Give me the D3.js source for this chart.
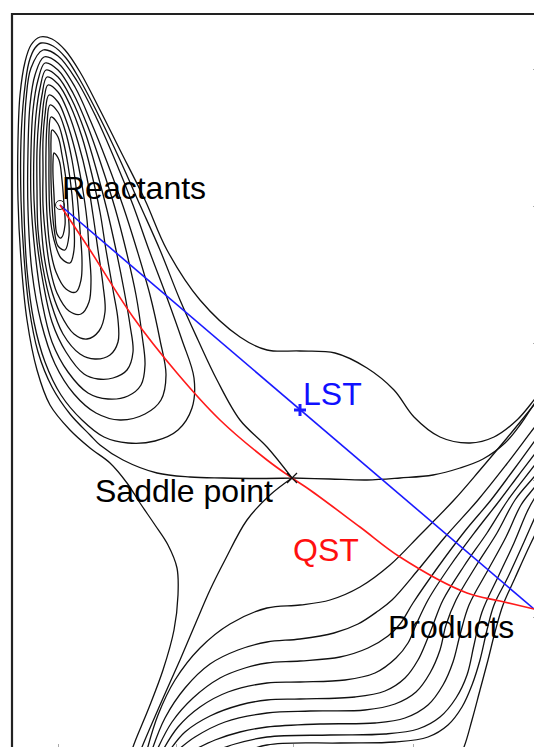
<!DOCTYPE html>
<html lang="en">
<head>
<meta charset="utf-8" />
<style>
  html, body { margin: 0; padding: 0; background: #fff; }
  svg { display: block; }
  .contour { fill: none; stroke: #111; stroke-width: 1.3; }
  .label { font-family: "Liberation Sans", Arial, sans-serif; font-size: 32px; }
</style>
</head>
<body>
<svg width="534" height="747"></svg>
<script src="https://d3js.org/d3.v7.min.js"></script>
<script>
// surface coordinates (grid units), origin at the top-left corner of the frame
var reactant = [48, 191],
    saddle = [280, 464],
    product = [522, 595],
    lstMid = [288, 396];

// closed contours around the reactant well, inner to outer
var reactantLoops = [
  [[42,139],[47,146],[50,166],[52,191],[53,211],[49,224],[45,220],[43,201],[42,181],[41,161],[41,148]],
  [[40,116],[46,123],[50,141],[54,166],[56,196],[57,221],[53,236],[46,232],[42,214],[40,191],[39,166],[39,141],[39,126]],
  [[39,103],[46,110],[51,126],[56,151],[60,181],[62,211],[62,236],[58,249],[49,244],[42,226],[38,201],[37,171],[37,141],[37,119]],
  [[38,91],[46,98],[53,116],[60,146],[65,181],[68,216],[70,246],[69,266],[64,278],[54,275],[44,258],[38,233],[35,201],[34,166],[34,136],[35,111]],
  [[37,81],[46,88],[54,106],[63,136],[70,171],[75,206],[77,236],[79,266],[77,288],[69,300],[57,297],[45,279],[38,254],[34,226],[31,191],[31,156],[31,126],[33,101]],
  [[36,71],[46,78],[56,98],[66,128],[75,164],[81,201],[86,236],[91,271],[93,298],[87,317],[75,325],[62,320],[48,299],[38,271],[32,241],[29,206],[28,171],[28,136],[30,106],[32,86]],
  [[35,63],[46,70],[58,91],[70,123],[80,161],[88,198],[94,236],[101,276],[106,306],[106,328],[98,341],[83,345],[68,340],[51,320],[39,289],[31,254],[26,216],[25,176],[25,136],[27,104],[30,81]],
  [[34,56],[46,63],[59,84],[73,118],[85,158],[95,196],[104,236],[112,276],[118,311],[121,338],[115,356],[101,364],[86,365],[72,360],[54,338],[40,308],[31,268],[25,228],[22,186],[22,136],[24,101],[28,74]],
  [[33,49],[46,56],[61,79],[76,113],[90,153],[103,194],[114,236],[124,281],[130,321],[133,351],[129,371],[116,382],[96,385],[76,379],[56,358],[40,328],[30,288],[23,238],[19,186],[19,136],[21,96],[26,66]],
  [[32,43],[46,49],[63,73],[79,108],[95,148],[111,192],[125,236],[138,281],[148,326],[154,361],[149,386],[133,400],[108,406],[84,399],[62,380],[43,350],[29,308],[20,258],[16,196],[16,136],[18,91],[23,61]],
  [[31,36],[46,42],[65,67],[84,103],[103,146],[121,191],[137,236],[154,281],[170,326],[182,364],[180,394],[166,416],[143,427],[116,429],[92,423],[70,406],[49,381],[33,348],[22,308],[15,256],[12,196],[12,136],[14,86],[19,54]]
];

// contour through the saddle point: reactant lobe, east branch, south-west branch
var saddleLobe = [[280,464],[248,464.5],[211,464],[178,463],[145,459],[111,446],[88,431],[78,421],[58,400],[40,373],[26,338],[17,293],[12,243],[9,186],[9,126],[12,81],[17,48],[23,34],[29,29],[41,32],[54,44],[68,66],[88,104],[108,146],[128,191],[148,236],[168,286],[186,326],[205,366],[228,406],[255,433],[280,464]];
var saddleEast = [[280,464],[318,465],[355,466],[388,464],[421,461],[448,454],[471,445],[493,429],[508,411],[522,390],[533,374]];
var saddleSouthWest = [[280,464],[258,481],[235,506],[213,546],[198,576],[185,606],[168,646],[148,691],[130,733],[123,751]];

// highest level drawn
var outerContour = [[118,746],[121,733],[136,696],[151,656],[162,616],[166,581],[165,554],[156,531],[143,511],[128,489],[115,469],[98,449],[78,434],[58,416],[38,391],[25,356],[15,306],[9,246],[6,186],[6,126],[8,81],[13,48],[19,31],[28,23],[40,25],[53,36],[68,58],[88,96],[108,136],[133,186],[155,236],[188,286],[228,323],[255,336],[288,337],[323,339],[355,354],[382,376],[402,403],[428,423],[458,429],[482,423],[505,406],[522,386],[533,371]];

// contours falling into the product well
var productContours = [
  [[135,736],[146,701],[163,666],[188,634],[218,610],[255,594],[288,591],[318,586],[348,573],[378,551],[408,521],[442,486],[468,456],[495,424],[522,391],[536,374]],
  [[140,736],[153,704],[173,674],[198,650],[226,636],[255,628],[288,625],[322,619],[346,610],[366,597],[380,586],[406,556],[433,523],[466,486],[494,451],[522,414],[536,396]],
  [[145,736],[160,708],[181,684],[208,664],[233,654],[255,649],[288,647],[328,643],[356,634],[376,622],[388,610],[401,589],[426,553],[453,517],[479,486],[500,458],[522,428],[536,409]],
  [[151,736],[166,713],[188,693],[216,678],[255,669],[288,668],[333,666],[363,659],[384,644],[396,629],[404,611],[416,586],[438,552],[463,518],[488,486],[506,462],[522,441],[536,422]],
  [[158,736],[173,718],[198,702],[228,691],[255,686],[288,685],[343,683],[373,677],[393,664],[406,646],[415,626],[421,611],[431,586],[452,552],[475,519],[496,486],[522,452],[536,433]],
  [[166,736],[183,723],[213,708],[255,699],[298,697],[353,696],[383,690],[404,678],[418,659],[428,636],[434,611],[444,586],[464,552],[485,519],[503,486],[522,463],[536,446]],
  [[178,738],[203,726],[228,718],[255,713],[308,710],[363,709],[393,704],[416,691],[431,671],[441,648],[448,621],[457,591],[476,556],[494,523],[509,491],[522,474],[536,456]],
  [[193,741],[223,730],[255,723],[318,721],[373,720],[406,715],[428,703],[444,684],[455,661],[462,631],[470,598],[487,561],[502,529],[515,498],[522,485],[536,466]],
  [[218,744],[255,731],[328,729],[383,728],[416,723],[436,711],[450,693],[460,671],[468,646],[475,616],[482,591],[496,563],[512,528],[524,501],[536,476]],
  [[443,751],[452,733],[460,706],[468,676],[476,646],[483,618],[491,591],[503,564],[518,531],[533,501]]
];

// quadratic synchronous transit path
var qstPath = [[48,191],[78,236],[121,303],[165,359],[208,406],[255,446],[280,464],[298,476],[348,513],[388,543],[455,579],[488,587],[522,595]];
var lstPath = [reactant, product];

var labels = [
  { text: "Reactants", at: [50, 185], color: "#000" },
  { text: "LST", at: [291, 391], color: "#1010ff" },
  { text: "Saddle point", at: [83, 488], color: "#000" },
  { text: "QST", at: [281, 547], color: "#ff1010" },
  { text: "Products", at: [376, 624], color: "#000" }
];

var bottomTicks = [46, 164, 281, 401],
    rightTicks = [55, 192, 329, 466, 603];

var svg = d3.select("svg");
svg.append("rect").attr("width", 534).attr("height", 747).attr("fill", "#fff");

var x = d3.scaleLinear().domain([0, 522]).range([12, 534]),
    y = d3.scaleLinear().domain([0, 733]).range([14, 747]);

svg.append("clipPath").attr("id", "plot")
  .append("rect")
  .attr("x", x(0)).attr("y", y(0))
  .attr("width", x(522) - x(0)).attr("height", y(733) - y(0));

var openLine = d3.line().x(function(d) { return x(d[0]); }).y(function(d) { return y(d[1]); })
  .curve(d3.curveCatmullRom);
var loopLine = d3.line().x(function(d) { return x(d[0]); }).y(function(d) { return y(d[1]); })
  .curve(d3.curveCatmullRomClosed);

var g = svg.append("g").attr("clip-path", "url(#plot)");

reactantLoops.forEach(function(loop) {
  g.append("path").attr("class", "contour").attr("d", loopLine(loop));
});

[saddleLobe, saddleEast, saddleSouthWest, outerContour].concat(productContours).forEach(function(line) {
  g.append("path").attr("class", "contour").attr("d", openLine(line));
});

g.append("path").attr("d", openLine(lstPath))
  .attr("fill", "none").attr("stroke", "#1a1aff").attr("stroke-width", 1.6);
g.append("path").attr("d", openLine(qstPath))
  .attr("fill", "none").attr("stroke", "#ff1a1a").attr("stroke-width", 1.6);

// markers
g.append("circle").attr("cx", x(reactant[0])).attr("cy", y(reactant[1])).attr("r", 4.5)
  .attr("fill", "none").attr("stroke", "#222").attr("stroke-width", 1);
g.append("path")
  .attr("d", "M-5,-5L5,5M-5,5L5,-5")
  .attr("transform", "translate(" + x(saddle[0]) + "," + y(saddle[1]) + ")")
  .attr("stroke", "#111").attr("stroke-width", 1.3);
g.append("path")
  .attr("d", "M-6,0H6M0,-6V6")
  .attr("transform", "translate(" + x(lstMid[0]) + "," + y(lstMid[1]) + ")")
  .attr("stroke", "#1a1aff").attr("stroke-width", 3);

// frame and faint tick marks
svg.append("path")
  .attr("d", "M" + x(0) + "," + (y(733) + 5) + "V" + y(0) + "H" + (x(522) + 5))
  .attr("fill", "none").attr("stroke", "#222").attr("stroke-width", 2.2);

var bottomAxis = svg.append("g").attr("transform", "translate(0," + (y(733) + 5) + ")")
  .call(d3.axisTop(x).tickValues(bottomTicks).tickSize(8).tickFormat(""));
var rightAxis = svg.append("g").attr("transform", "translate(" + (x(522) + 3) + ",0)")
  .call(d3.axisLeft(y).tickValues(rightTicks).tickSize(4).tickFormat(""));
[bottomAxis, rightAxis].forEach(function(a) {
  a.select(".domain").remove();
  a.selectAll("line").attr("stroke", "#aaa");
});

svg.selectAll(".label").data(labels).enter().append("text")
  .attr("class", "label")
  .attr("x", function(d) { return x(d.at[0]); })
  .attr("y", function(d) { return y(d.at[1]); })
  .attr("fill", function(d) { return d.color; })
  .text(function(d) { return d.text; });
</script>
</body>
</html>
